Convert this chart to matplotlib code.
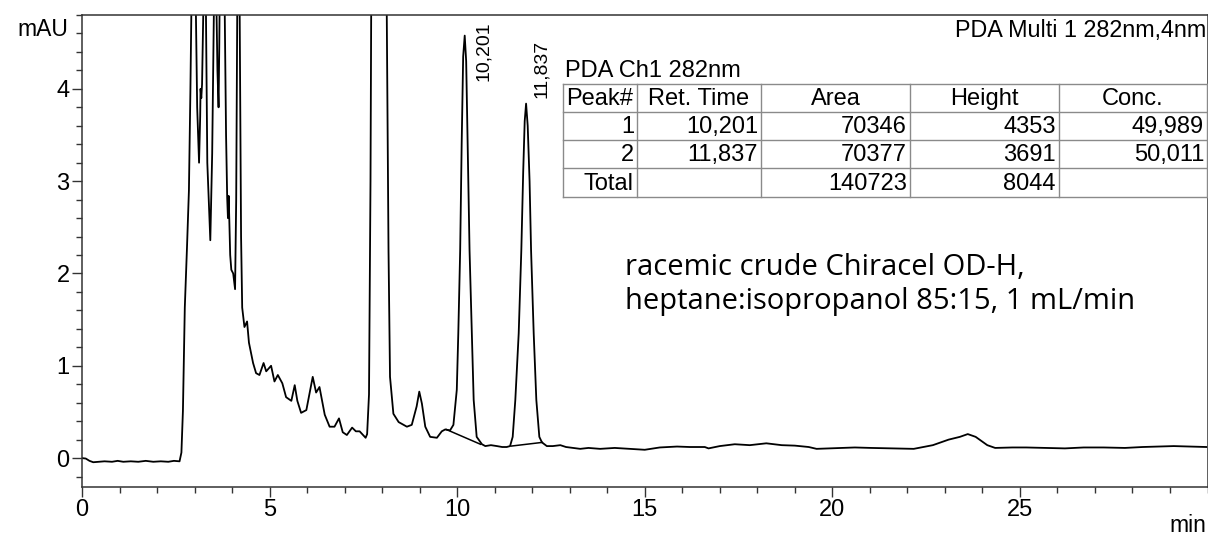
import matplotlib
matplotlib.use("Agg")
import matplotlib.pyplot as plt
from matplotlib.lines import Line2D
from matplotlib.ticker import MultipleLocator
import numpy as np

plt.rcParams['font.family'] = ['Liberation Sans', 'DejaVu Sans']

# PDA Ch1 282 nm trace: retention time (min) and absorbance (mAU)
time_min = [
    0.00, 0.10, 0.20, 0.30, 0.45, 0.60, 0.80, 0.95, 1.10, 1.30, 1.50, 1.70,
    1.90, 2.10, 2.30, 2.45, 2.60, 2.65, 2.69, 2.74, 2.80, 2.85, 2.89, 2.92,
    2.975, 3.03, 3.07, 3.12, 3.15, 3.16, 3.18, 3.20, 3.24, 3.27, 3.30, 3.34,
    3.42, 3.47, 3.52, 3.55, 3.58, 3.61, 3.64, 3.66, 3.67, 3.73, 3.80, 3.84,
    3.87, 3.89, 3.91, 3.95, 3.98, 4.03, 4.08, 4.11, 4.14, 4.17, 4.20, 4.24,
    4.27, 4.33, 4.40, 4.45, 4.56, 4.64, 4.73, 4.84, 4.91, 5.04, 5.13, 5.22,
    5.34, 5.44, 5.58, 5.67, 5.74, 5.84, 5.98, 6.15, 6.24, 6.33, 6.47, 6.60,
    6.73, 6.85, 6.95, 7.06, 7.20, 7.30, 7.40, 7.56, 7.60, 7.65, 7.69, 7.71,
    7.90, 8.12, 8.17, 8.21, 8.30, 8.44, 8.66, 8.79, 8.92, 8.99, 9.06, 9.15,
    9.28, 9.46, 9.59, 9.68, 9.81, 9.90, 9.99, 10.03, 10.08, 10.12, 10.16,
    10.24, 10.28, 10.33, 10.39, 10.44, 10.52, 10.66, 10.75, 10.90, 11.06,
    11.20, 11.32, 11.41, 11.48, 11.55, 11.64, 11.71, 11.76, 11.80, 11.88,
    11.93, 11.97, 12.04, 12.11, 12.19, 12.26, 12.39, 12.55, 12.75, 12.90,
    13.10, 13.28, 13.50, 13.81, 14.20, 14.60, 15.00, 15.40, 15.86, 16.20,
    16.60, 16.70, 17.00, 17.40, 17.80, 18.24, 18.65, 19.00, 19.37, 19.58,
    19.90, 20.20, 20.60, 21.03, 21.60, 22.17, 22.68, 23.10, 23.40, 23.61,
    23.82, 24.13, 24.34, 24.80, 25.17, 25.70, 26.20, 26.70, 27.23, 27.80,
    28.27, 28.70, 29.10, 29.50, 29.97,
]
signal_mau = [
    0.00, -0.005, -0.03, -0.045, -0.040, -0.035, -0.040, -0.030, -0.040,
    -0.035, -0.040, -0.030, -0.040, -0.035, -0.040, -0.030, -0.035, 0.06,
    0.51, 1.63, 2.30, 2.90, 4.00, 5.00, 12.0, 5.00, 3.80, 3.20, 3.70, 4.00,
    3.90, 4.05, 5.00, 12.0, 5.00, 3.20, 2.36, 3.30, 5.00, 12.0, 5.00, 4.20,
    3.80, 4.50, 5.00, 12.0, 5.00, 3.50, 2.82, 2.60, 2.84, 2.20, 2.04, 2.00,
    1.83, 2.80, 5.00, 12.0, 5.00, 2.40, 1.63, 1.42, 1.48, 1.25, 1.03, 0.92,
    0.90, 1.03, 0.94, 1.00, 0.83, 0.90, 0.81, 0.66, 0.62, 0.79, 0.62, 0.49,
    0.52, 0.88, 0.71, 0.77, 0.47, 0.34, 0.34, 0.43, 0.28, 0.25, 0.33, 0.29,
    0.29, 0.22, 0.26, 0.69, 3.00, 5.00, 30.0, 5.00, 2.25, 0.88, 0.48, 0.39,
    0.34, 0.36, 0.56, 0.72, 0.59, 0.34, 0.23, 0.22, 0.29, 0.31, 0.30, 0.36,
    0.74, 1.35, 2.25, 3.40, 4.35, 4.30, 3.40, 2.25, 1.35, 0.63, 0.23, 0.15,
    0.13, 0.14, 0.13, 0.12, 0.12, 0.13, 0.23, 0.63, 1.35, 2.25, 3.10, 3.65,
    3.60, 3.00, 2.25, 1.35, 0.63, 0.23, 0.17, 0.13, 0.13, 0.14, 0.12, 0.11,
    0.10, 0.11, 0.10, 0.11, 0.10, 0.09, 0.115, 0.125, 0.12, 0.12, 0.105,
    0.13, 0.15, 0.14, 0.16, 0.14, 0.135, 0.12, 0.10, 0.105, 0.11, 0.115,
    0.11, 0.105, 0.10, 0.14, 0.20, 0.23, 0.26, 0.23, 0.14, 0.11, 0.115,
    0.115, 0.11, 0.105, 0.115, 0.115, 0.11, 0.12, 0.125, 0.13, 0.125, 0.12,
]

# integrated peaks (PDA Ch1 282nm)
peak_ids = [1, 2]
ret_times = [10.201, 11.837]
areas = [70346, 70377]
heights_uau = [4353, 3691]
concs = [49.989, 50.011]
# integration baselines: (start time, start mAU) -> (end time, end mAU)
base_t0 = [9.71, 11.44]
base_v0 = [0.31, 0.13]
base_t1 = [10.62, 12.27]
base_v1 = [0.15, 0.17]

x_ticks = [0, 5, 10, 15, 20, 25]
y_ticks = [0, 1, 2, 3, 4]


def baseline_at(i, t):
    return np.interp(t, [base_t0[i], base_t1[i]], [base_v0[i], base_v1[i]])


# peak apexes follow the reported retention time and height above baseline
apex_v = [baseline_at(i, rt) + h / 1000.0
          for i, (rt, h) in enumerate(zip(ret_times, heights_uau))]
trace_t = np.array(time_min + ret_times)
trace_v = np.array(signal_mau + apex_v)
order = np.argsort(trace_t)
trace_t, trace_v = trace_t[order], trace_v[order]

W, H = 1208, 538
fig = plt.figure(figsize=(W / 100, H / 100), dpi=100)


def fx(px):
    return px / W


def fy(py):
    return 1 - py / H


ax = fig.add_axes([fx(82), fy(486.7), 1125.5 / W, (486.7 - 15) / H])
ax.plot(trace_t, trace_v, color='black', lw=1.3, solid_joinstyle='round')
for i in range(len(peak_ids)):
    ax.plot([base_t0[i], base_t1[i]], [base_v0[i], base_v1[i]],
            color='black', lw=1.1)

ax.set_xlim(0, 30)
ax.set_ylim(-0.31, 4.80)
ax.set_xticks(x_ticks)
ax.set_yticks(y_ticks)
ax.xaxis.set_minor_locator(MultipleLocator(1))
ax.yaxis.set_minor_locator(MultipleLocator(0.2))
spine_col = '#333333'
for s in ax.spines.values():
    s.set_color(spine_col)
    s.set_linewidth(1.1)
ax.tick_params(which='major', direction='out', length=7.5, width=1.0,
               color=spine_col, labelsize=17, pad=1.5)
ax.tick_params(which='minor', direction='out', length=4.5, width=1.0,
               color=spine_col)

# retention time labels over the two peaks
label_pos = [(10.69, 4.08), (12.25, 3.90)]
for rt, (lx, ly) in zip(ret_times, label_pos):
    ax.text(lx, ly, f"{rt:.3f}".replace('.', ','), rotation=90,
            ha='center', va='bottom', fontsize=14)

fig.text(fx(68), fy(30), 'mAU', ha='right', va='center', fontsize=16.5)
fig.text(fx(1206), fy(525), 'min', ha='right', va='center', fontsize=16.5)
fig.text(fx(1206), fy(31), 'PDA Multi 1 282nm,4nm', ha='right', va='center',
         fontsize=16.8)

# peak table
col_edges = [563, 637, 761, 910, 1059, 1207]
row_edges = [84, 112, 140, 168, 197]
grid_col = '#8a8a8a'
for y in row_edges:
    fig.add_artist(Line2D([fx(col_edges[0]), fx(col_edges[-1])], [fy(y), fy(y)],
                          color=grid_col, lw=1.0))
for x in col_edges:
    fig.add_artist(Line2D([fx(x), fx(x)], [fy(row_edges[0]), fy(row_edges[-1])],
                          color=grid_col, lw=1.0))
fig.text(fx(565), fy(82), 'PDA Ch1 282nm', ha='left', va='bottom',
         fontsize=17)

headers = ['Peak#', 'Ret. Time', 'Area', 'Height', 'Conc.']
rows = []
for pid, rt, ar, ht, cc in zip(peak_ids, ret_times, areas, heights_uau, concs):
    rows.append([str(pid), f"{rt:.3f}".replace('.', ','), str(ar), str(ht),
                 f"{cc:.3f}".replace('.', ',')])
rows.append(['Total', '', str(sum(areas)), str(sum(heights_uau)), ''])

for j, h in enumerate(headers):
    cx = (col_edges[j] + col_edges[j + 1]) / 2
    cy = (row_edges[0] + row_edges[1]) / 2
    fig.text(fx(cx), fy(cy + 1), h, ha='center', va='center', fontsize=17)
for r, row in enumerate(rows):
    cy = (row_edges[r + 1] + row_edges[r + 2]) / 2
    for j, val in enumerate(row):
        if val:
            fig.text(fx(col_edges[j + 1] - 3), fy(cy + 1), val, ha='right',
                     va='center', fontsize=17)

# method note
note_font = ['Open Sans', 'DejaVu Sans']
ax.text(14.48, 2.06, 'racemic crude Chiracel OD-H,', ha='left',
        va='center', fontsize=21, family=note_font)
ax.text(14.48, 1.70, 'heptane:isopropanol 85:15, 1 mL/min', ha='left',
        va='center', fontsize=21, family=note_font)

fig.savefig('out.png', dpi=100)
